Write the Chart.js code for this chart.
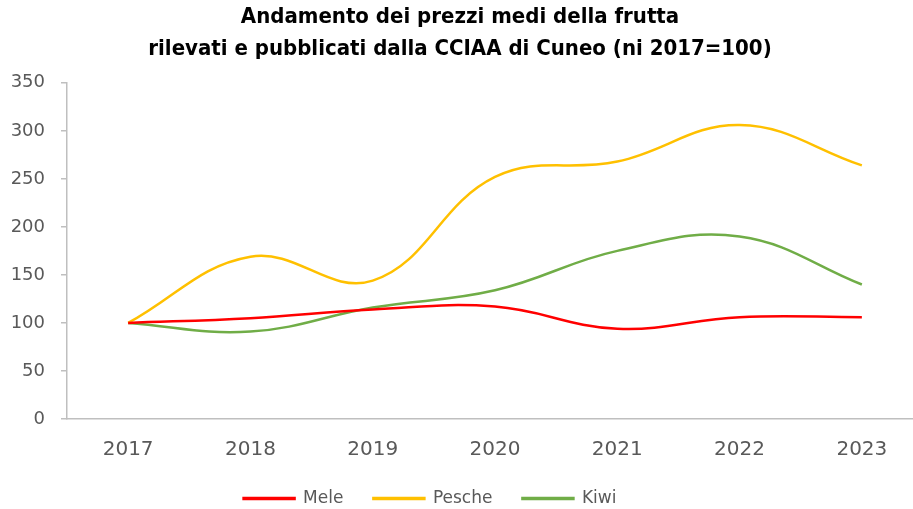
<!DOCTYPE html>
<html>
<head>
<meta charset="utf-8">
<script src="https://cdn.jsdelivr.net/npm/chart.js@4.4.1/dist/chart.umd.min.js"></script>
<style>
  html, body { margin: 0; padding: 0; background: #fff; overflow: hidden; }
  #wrap { position: relative; width: 925px; height: 509px; }
</style>
</head>
<body>
<div id="wrap"><canvas id="chart"></canvas></div>
<script>
// dati (indice 2017=100)
var anni = ['2017', '2018', '2019', '2020', '2021', '2022', '2023'];
var mele = [100, 105, 114, 117, 94, 106, 106];
var pesche = [100, 169, 144, 252, 268, 306, 264];
var kiwi = [100, 91, 116, 134, 175, 190, 140];
var yTicks = [0, 50, 100, 150, 200, 250, 300, 350];

var titleFont = "'Liberation Sans Narrow', 'DejaVu Sans Condensed', sans-serif";
var font = "'DejaVu Sans', sans-serif";

// sposta legenda e titolo come nell'originale (non centrati sul canvas)
var spostaLegenda = {
  id: 'spostaLegenda',
  afterLayout: function(chart) {
    var lg = chart.legend;
    lg.left -= 37; lg.right -= 37;
    lg.top -= 13; lg.bottom = chart.height;
    var tb = chart.titleBlock;
    tb.left -= 7; tb.right -= 7;
  }
};

var ctx = document.getElementById('chart').getContext('2d');
var chart = new Chart(ctx, {
  type: 'line',
  data: {
    labels: anni,
    datasets: [
      { label: 'Mele', data: mele, borderColor: '#ff0000', backgroundColor: '#ff0000' },
      { label: 'Pesche', data: pesche, borderColor: '#ffc000', backgroundColor: '#ffc000' },
      { label: 'Kiwi', data: kiwi, borderColor: '#70ad47', backgroundColor: '#70ad47' }
    ]
  },
  plugins: [spostaLegenda],
  options: {
    responsive: true,
    maintainAspectRatio: false,
    animation: false,
    elements: {
      line: { borderWidth: 2.5, tension: 0.4, fill: false },
      point: { radius: 0, hoverRadius: 0 }
    },
    layout: { padding: { left: 11, right: 2, top: 0, bottom: 0 } },
    plugins: {
      title: {
        display: true,
        text: ['Andamento dei prezzi medi della frutta', 'rilevati e pubblicati dalla CCIAA di Cuneo (ni 2017=100)'],
        color: '#000',
        font: { family: titleFont, size: 22, weight: 'bold', lineHeight: 1.45 },
        padding: { top: 1, bottom: 18 }
      },
      legend: {
        position: 'bottom',
        maxHeight: 36,
        labels: {
          color: '#595959',
          font: { family: font, size: 17 },
          boxWidth: 51,
          boxHeight: 1,
          padding: 30
        }
      },
      tooltip: { enabled: false }
    },
    scales: {
      x: {
        offset: true,
        grid: { display: false },
        border: { color: '#bfbfbf', width: 1.5 },
        ticks: { color: '#595959', font: { family: font, size: 20 }, padding: 11 },
        afterFit: function(scale) { scale.paddingLeft = 0; scale.paddingRight = 0; }
      },
      y: {
        min: 0,
        max: 350,
        afterBuildTicks: function(axis) {
          axis.ticks = yTicks.map(function(v) { return { value: v }; });
        },
        afterFit: function(scale) { scale.width = 56; },
        grid: { drawOnChartArea: false, tickLength: 6, color: '#bfbfbf', lineWidth: 1.5 },
        border: { color: '#bfbfbf', width: 1.5 },
        ticks: { color: '#595959', font: { family: font, size: 18 }, padding: 16 }
      }
    }
  }
});
</script>
</body>
</html>
